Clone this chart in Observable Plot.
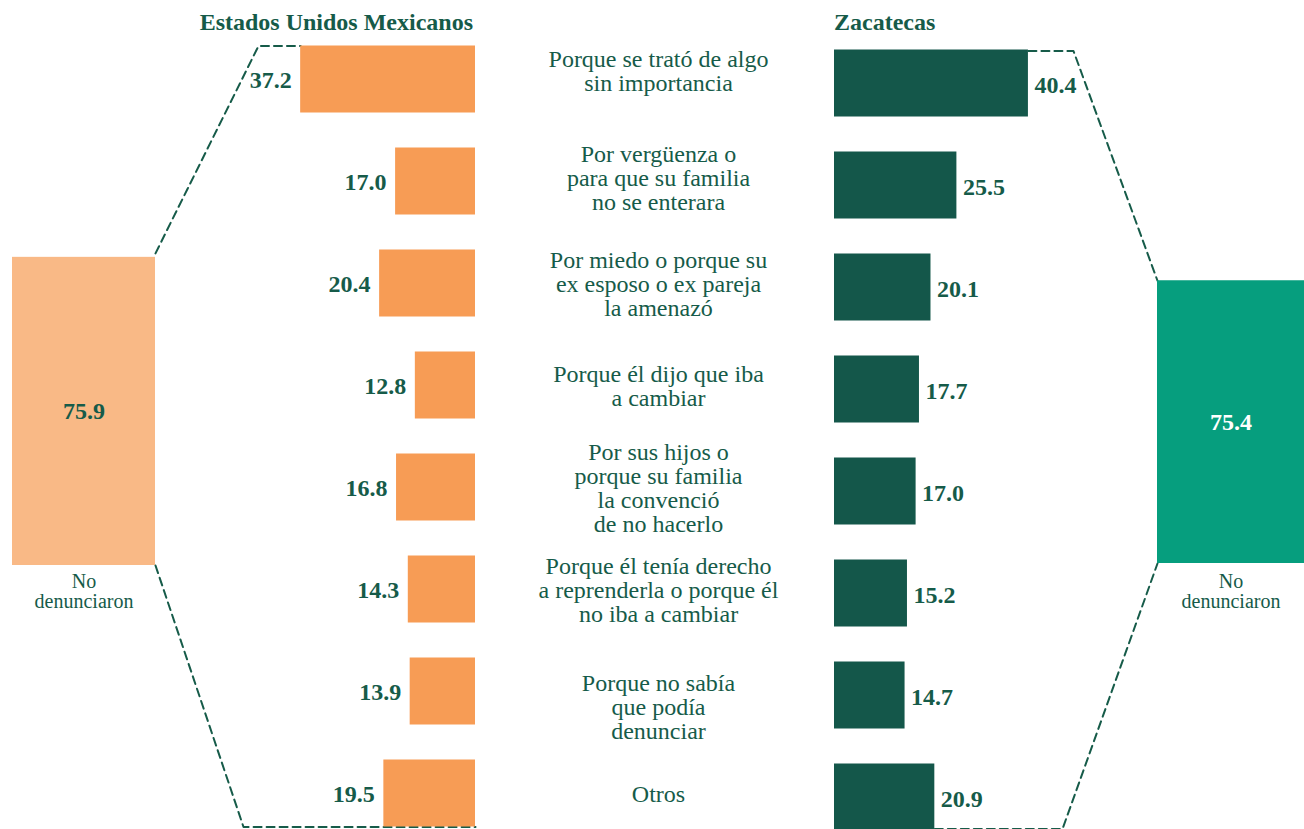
<!DOCTYPE html>
<html><head><meta charset="utf-8">
<script src="https://cdn.jsdelivr.net/npm/d3@7"></script>
<script src="https://cdn.jsdelivr.net/npm/@observablehq/plot@0.6"></script>
<style>
body{margin:0;background:#fff;}
#chart{position:relative;width:1304px;height:829px;overflow:hidden;font-family:"Liberation Serif","Times New Roman",serif;}
#chart svg{position:absolute;left:0;top:0;}
.head{position:absolute;top:10px;font:bold 24px/24px "Liberation Serif","Times New Roman",serif;color:#165B49;white-space:nowrap;}
</style></head><body>
<div id="chart"></div>
<script>
// ---------- data ----------
const reasons = [
  "Porque se trató de algo\nsin importancia",
  "Por vergüenza o\npara que su familia\nno se enterara",
  "Por miedo o porque su\nex esposo o ex pareja\nla amenazó",
  "Porque él dijo que iba\na cambiar",
  "Por sus hijos o\nporque su familia\nla convenció\nde no hacerlo",
  "Porque él tenía derecho\na reprenderla o porque él\nno iba a cambiar",
  "Porque no sabía\nque podía\ndenunciar",
  "Otros"
];
const nacional  = [37.2, 17.0, 20.4, 12.8, 16.8, 14.3, 13.9, 19.5];
const zacatecas = [40.4, 25.5, 20.1, 17.7, 17.0, 15.2, 14.7, 20.9];
const totalLabel = "No denunciaron";
const nacionalTotal = 75.9;
const zacatecasTotal = 75.4;
const groupTitles = ["Estados Unidos Mexicanos", "Zacatecas"];

// ---------- layout / style ----------
const W = 1304, H = 829;
const ink = "#165B49";
const cOrange = "#F79C55", cOrangeLight = "#F9B986", cGreen = "#14574A", cTeal = "#069E7E";
const font = '"Liberation Serif","Times New Roman",serif';
const inset = 17.5;
const labelNudge = {0: -8, 1: -3, 6: 16};

const rowsN = reasons.map((r, i) => ({reason: r, value: nacional[i], i}));
const rowsZ = reasons.map((r, i) => ({reason: r, value: zacatecas[i], i}));
const totN = [{label: totalLabel, value: nacionalTotal}];
const totZ = [{label: totalLabel, value: zacatecasTotal}];
const totText = totalLabel.replace(" ", "\n");
const fmt = d => d.value.toFixed(1);

function opts(o) {
  return Object.assign({width: W, height: H, margin: 0,
    style: {fontFamily: font, background: "none", overflow: "visible"}}, o);
}

// left total bar
const pA = Plot.plot(opts({
  x: {type: "band", domain: [totalLabel], range: [12, 155], padding: 0, axis: null},
  y: {domain: [0, 100], range: [565, 159], axis: null},
  marks: [
    Plot.barY(totN, {x: "label", y: "value", fill: cOrangeLight}),
    Plot.text(totN, {x: "label", y: d => d.value / 2, text: fmt, fontWeight: "bold", fontSize: 24, fill: ink}),
    Plot.text(totN, {x: "label", y: 0, text: () => totText, lineAnchor: "top", dy: 8, fontSize: 20, lineHeight: 1, fill: ink})
  ]
}));

// right total bar
const pE = Plot.plot(opts({
  x: {type: "band", domain: [totalLabel], range: [1157, 1304], padding: 0, axis: null},
  y: {domain: [0, 100], range: [563, 188], axis: null},
  marks: [
    Plot.barY(totZ, {x: "label", y: "value", fill: cTeal}),
    Plot.text(totZ, {x: "label", y: d => d.value / 2, text: fmt, fontWeight: "bold", fontSize: 24, fill: "#fff"}),
    Plot.text(totZ, {x: "label", y: 0, text: () => totText, lineAnchor: "top", dy: 10, fontSize: 20, lineHeight: 1, fill: ink})
  ]
}));

// national bars (grow leftwards)
const pB = Plot.plot(opts({
  x: {domain: [0, 40], range: [475, 475 - 188], axis: null},
  y: {type: "band", domain: reasons, range: [27.5, 843.5], padding: 0, axis: null},
  marks: [
    Plot.barX(rowsN, {x1: 0, x2: "value", y: "reason", fill: cOrange, insetTop: inset, insetBottom: inset}),
    Plot.text(rowsN, {x: "value", y: "reason", text: fmt, textAnchor: "end", dx: -9, dy: 1, fontWeight: "bold", fontSize: 24, fill: ink})
  ]
}));

// Zacatecas bars (grow rightwards)
const pD = Plot.plot(opts({
  x: {domain: [0, 50], range: [834, 834 + 240], axis: null},
  y: {type: "band", domain: reasons, range: [31.5, 847.5], padding: 0, axis: null},
  marks: [
    Plot.barX(rowsZ, {x1: 0, x2: "value", y: "reason", fill: cGreen, insetTop: inset, insetBottom: inset}),
    Plot.text(rowsZ, {x: "value", y: "reason", text: fmt, textAnchor: "start", dx: 6, dy: 2, fontWeight: "bold", fontSize: 24, fill: ink})
  ]
}));

// category labels in the middle
const labelGroups = d3.groups(rowsN, d => labelNudge[d.i] ?? 1);
const pC = Plot.plot(opts({
  marginLeft: 475, marginRight: W - 841,
  y: {type: "band", domain: reasons, range: [27.5, 843.5], padding: 0, axis: null},
  marks: labelGroups.map(([dy, rows]) =>
    Plot.text(rows, {y: "reason", text: "reason", dy, fontSize: 24, lineHeight: 1, fill: ink}))
}));

// dashed connectors, positions taken from the other plots' scales
const xA = pA.scale("x"), yA = pA.scale("y");
const xB = pB.scale("x"), yB = pB.scale("y");
const xD = pD.scale("x"), yD = pD.scale("y");
const xE = pE.scale("x"), yE = pE.scale("y");
const aRight = xA.apply(totalLabel) + xA.bandwidth;
const eLeft = xE.apply(totalLabel);
const nTop = yB.apply(reasons[0]) + inset;
const nBottom = yB.apply(reasons[7]) + yB.bandwidth - inset;
const zTop = yD.apply(reasons[0]) + inset + 1;
const zBottom = yD.apply(reasons[7]) + yD.bandwidth - inset - 2;
const connectors = [
  [[aRight, yA.apply(nacionalTotal) - 4], [aRight + 103, nTop], [xB.apply(nacional[0]), nTop]],
  [[aRight, yA.apply(0)], [aRight + 88, nBottom], [xB.apply(0), nBottom]],
  [[xD.apply(zacatecas[0]), zTop], [eLeft - 84, zTop], [eLeft, yE.apply(zacatecasTotal)]],
  [[xD.apply(zacatecas[7]), zBottom], [eLeft - 95, zBottom], [eLeft, yE.apply(0)]]
];
const pts = connectors.flatMap((line, k) => line.map(p => ({x: p[0], y: p[1], k})));
const pL = Plot.plot(opts({
  x: {type: "identity", axis: null}, y: {type: "identity", axis: null},
  marks: [Plot.line(pts, {x: "x", y: "y", z: "k", stroke: ink, strokeWidth: 2, strokeDasharray: "8,5", curve: "linear"})]
}));

const chart = document.getElementById("chart");
[pL, pA, pE, pB, pD, pC].forEach(s => chart.appendChild(s));

// group headers
const h1 = document.createElement("div");
h1.className = "head"; h1.textContent = groupTitles[0];
h1.style.right = (W - 473) + "px";
const h2 = document.createElement("div");
h2.className = "head"; h2.textContent = groupTitles[1];
h2.style.left = "834px";
chart.appendChild(h1); chart.appendChild(h2);
</script>
</body></html>
